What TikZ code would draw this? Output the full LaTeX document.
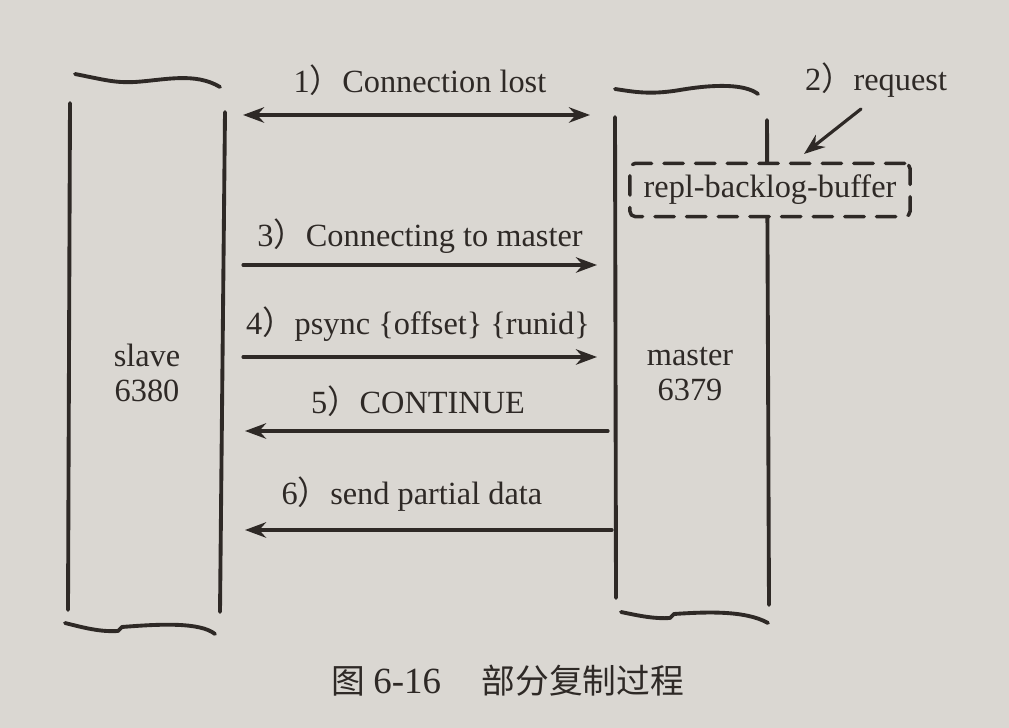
\documentclass[tikz,border=0pt]{standalone}
\usepackage{fontspec}
\setmainfont{Liberation Serif}
\newfontfamily\cjk{Noto Sans CJK SC}
\usetikzlibrary{arrows.meta}
\definecolor{paper}{HTML}{DAD7D2}
\definecolor{ink}{HTML}{2E2926}
\newcommand{\fwparen}{{\cjk ）}}
\begin{document}
\begin{tikzpicture}[x=0.01cm,y=-0.01cm,line cap=round,line join=round,
  every node/.style={text=ink,font=\fontsize{9.2}{9.2}\selectfont},
  wall/.style={draw=ink,line width=1.1pt},
  msg/.style={draw=ink,line width=0.9pt,-{Stealth[length=6pt,width=4.4pt]}},
  bufbox/.style={draw=ink,line width=1pt,dash pattern=on 5.5pt off 3.5pt,
    rounded corners=1.5pt,fill=paper,minimum width=2.8cm,minimum height=0.47cm}]
  \fill[paper] (0,0) rectangle (1009,728);
  \useasboundingbox (0,0) rectangle (1009,728);
  % slave
  \draw[wall] (70,103) -- (68,610);
  \draw[wall] (225,112) -- (220,612);
  \draw[wall] (75,74) .. controls (105,80) and (115,83) .. (135,82)
    .. controls (165,80) and (195,72) .. (220,87);
  \draw[wall] (65,623) .. controls (85,628) and (100,632) .. (118,631) -- (122,627)
    .. controls (160,624) and (200,622) .. (215,634);
  \node[align=center] (slave) at (147,373) {slave\\[1pt]6380};
  % master
  \draw[wall] (615,117) -- (616,598);
  \draw[wall] (767,120) -- (769,605);
  \draw[wall] (615,89) .. controls (635,92) and (650,95) .. (680,90)
    .. controls (715,84) and (745,84) .. (758,94);
  \draw[wall] (621,612) .. controls (640,616) and (655,619) .. (670,618) -- (674,614)
    .. controls (705,612) and (745,610) .. (768,623);
  \node[align=center] (master) at (690,374) {master\\[1pt]6379};
  \node[bufbox] (buf) at (770,190) {repl-backlog-buffer};
  % messages
  \coordinate (s1) at (243,115);
  \coordinate (m1) at (590,115);
  \coordinate (s3) at (243,265);
  \coordinate (m3) at (597,265);
  \coordinate (s4) at (243,357);
  \coordinate (m4) at (597,357);
  \coordinate (s5) at (245,431);
  \coordinate (m5) at (608,431);
  \coordinate (s6) at (245,530);
  \coordinate (m6) at (612,530);
  \coordinate (req) at (861,109);
  \coordinate (reqtip) at (804,154);
  \draw[msg,{Stealth[length=6pt,width=4.4pt]}-{Stealth[length=6pt,width=4.4pt]}] (s1) -- (m1);
  \draw[msg] (s3) -- (m3);
  \draw[msg] (s4) -- (m4);
  \draw[msg] (m5) -- (s5);
  \draw[msg] (m6) -- (s6);
  \draw[msg] (req) -- (reqtip);
  \node (l1) at (420,80) {1\fwparen Connection lost};
  \node (l2) at (876,80) {2\fwparen request};
  \node (l3) at (420,236) {3\fwparen Connecting to master};
  \node (l4) at (418,324) {4\fwparen psync \{offset\} \{runid\}};
  \node (l5) at (418,401) {5\fwparen CONTINUE};
  \node (l6) at (412,494) {6\fwparen send partial data};
  \node[font=\cjk\fontsize{9.6}{10}\selectfont] (cap) at (508,681)
    {图 {\rmfamily\fontsize{10.5}{11}\selectfont 6-16}\hspace{1.2em}部分复制过程};
\end{tikzpicture}
\end{document}
